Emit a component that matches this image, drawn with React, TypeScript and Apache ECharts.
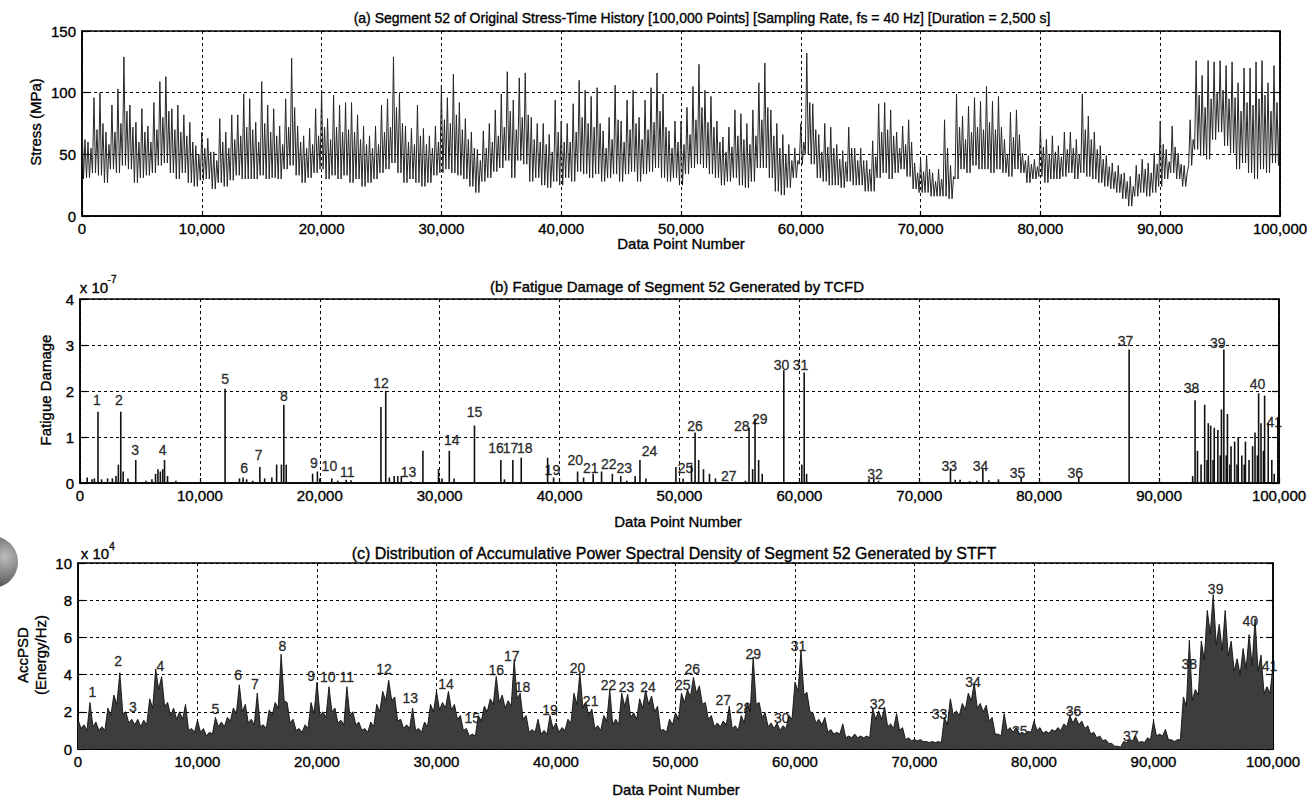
import React, { useEffect, useRef } from "react";
import * as echarts from "echarts";

// ---------- data ----------
const SAMPLE_STEP = 500; // data points between samples

// (a) stress, every 500 points (0 .. 100,000), MPa: spike tops, core-band tops and troughs
const STRESS_HIGH = [
  77, 60, 96, 100, 68, 90, 103, 129, 90, 76,
  87, 73, 92, 109, 113, 87, 90, 82, 76, 57,
  68, 63, 52, 79, 68, 82, 82, 99, 95, 76,
  109, 90, 87, 73, 95, 128, 73, 65, 71, 87,
  102, 79, 98, 90, 92, 92, 82, 73, 65, 73,
  90, 95, 129, 100, 73, 71, 90, 71, 65, 73,
  106, 96, 115, 92, 79, 68, 54, 69, 75, 86,
  99, 117, 94, 112, 116, 80, 75, 75, 66, 94,
  77, 75, 91, 110, 102, 97, 104, 69, 80, 106,
  77, 94, 102, 80, 94, 104, 116, 99, 69, 77,
  77, 88, 105, 123, 102, 97, 77, 64, 72, 86,
  83, 75, 86, 108, 124, 86, 75, 66, 58, 55,
  75, 132, 91, 66, 75, 72, 58, 53, 72, 55,
  55, 45, 61, 91, 92, 86, 68, 73, 78, 43,
  46, 49, 35, 38, 78, 41, 99, 81, 89, 96,
  93, 105, 93, 97, 62, 84, 86, 51, 49, 46,
  73, 62, 65, 57, 68, 68, 62, 99, 81, 68,
  57, 49, 43, 41, 35, 32, 41, 46, 43, 51,
  77, 54, 73, 51, 41, 78, 126, 114, 126, 125,
  126, 122, 125, 108, 120, 120, 125, 126, 108, 122,
  95,
];
const STRESS_MID = [
  62, 55, 70, 75, 58, 68, 75, 85, 72, 60,
  68, 60, 70, 80, 85, 70, 68, 65, 60, 50,
  55, 52, 45, 60, 55, 62, 65, 72, 70, 60,
  75, 68, 65, 58, 72, 88, 60, 55, 58, 65,
  72, 62, 72, 68, 70, 68, 62, 58, 55, 58,
  68, 72, 88, 75, 60, 58, 65, 58, 55, 60,
  78, 75, 82, 70, 62, 55, 45, 55, 60, 65,
  72, 85, 70, 80, 82, 62, 60, 58, 52, 68,
  60, 60, 68, 80, 75, 72, 75, 55, 62, 78,
  60, 70, 75, 62, 70, 76, 85, 72, 55, 60,
  58, 66, 78, 88, 76, 72, 60, 52, 56, 65,
  62, 58, 65, 78, 88, 65, 55, 50, 45, 45,
  60, 92, 70, 52, 56, 55, 46, 44, 55, 45,
  45, 38, 48, 68, 70, 65, 55, 58, 60, 35,
  36, 38, 28, 30, 55, 32, 72, 62, 68, 72,
  70, 76, 70, 72, 50, 64, 66, 45, 42, 40,
  56, 50, 52, 48, 54, 55, 50, 70, 62, 54,
  46, 40, 36, 34, 28, 24, 34, 38, 35, 42,
  58, 44, 56, 42, 35, 62, 98, 88, 95, 100,
  102, 95, 96, 85, 92, 90, 95, 98, 85, 92,
];
const STRESS_LOW = [
  30, 31, 35, 33, 27, 38, 35, 41, 38, 27,
  31, 33, 35, 41, 43, 35, 30, 35, 27, 24,
  29, 30, 22, 27, 24, 29, 33, 30, 30, 30,
  33, 30, 31, 30, 38, 41, 33, 27, 31, 35,
  38, 30, 33, 30, 33, 27, 30, 24, 27, 30,
  35, 38, 43, 35, 27, 30, 27, 24, 27, 33,
  35, 38, 35, 33, 30, 24, 19, 28, 31, 36,
  39, 45, 31, 45, 42, 28, 31, 25, 23, 28,
  25, 31, 28, 36, 34, 31, 34, 28, 31, 34,
  28, 34, 36, 28, 34, 36, 39, 31, 28, 31,
  25, 34, 39, 42, 39, 34, 31, 25, 28, 31,
  25, 23, 28, 39, 39, 31, 20, 17, 23, 31,
  42, 50, 42, 31, 28, 25, 25, 23, 28, 25,
  25, 20, 20, 31, 35, 30, 35, 38, 32, 22,
  19, 19, 16, 16, 16, 14, 30, 38, 35, 41,
  38, 38, 35, 38, 35, 32, 38, 35, 27, 30,
  32, 27, 30, 30, 32, 35, 30, 35, 32, 30,
  27, 24, 22, 19, 14, 8, 16, 19, 16, 19,
  24, 30, 35, 30, 24, 41, 54, 49, 46, 62,
  68, 57, 51, 38, 43, 35, 30, 38, 35, 43,
  41,
];

// (b) fatigue damage spikes: position (data point) and value (x 1e-7)
const DAMAGE_POS = [
  600, 1000, 1200, 1500, 1800, 2300, 2700, 3000, 3200, 3400, 3600, 4000, 4650, 5500, 6000, 6300, 6500, 6700, 6900, 7050, 7300, 8000,
  12100, 13300, 13600, 13900, 14400, 15000, 15400, 16000, 16400, 16800, 17000, 17200, 19400, 19800, 20000, 21000, 21500, 22200, 22600,
  25100, 25500, 25800, 26200, 26500, 26800, 27600, 28600, 29900, 30200, 30800, 31200, 32900, 35100, 35400, 36100, 36800, 39000, 39500,
  41500, 42000, 42800, 43500, 44400, 45100, 45600, 46300, 46700, 47200, 49700, 50300, 51000, 51300, 51600, 52000, 52500, 53000, 54100,
  55500, 55800, 56100, 56300, 56600, 56900, 58700, 60200, 60400, 60600, 65800, 66200, 66600, 72600, 73000, 73400, 74200, 74800, 75300,
  75800, 76600, 78500, 83300, 87500, 92800, 93000, 93200, 93500, 93800, 94000, 94100, 94300, 94500, 94600, 94900, 95100, 95200, 95400,
  95600, 95700, 95900, 96000, 96300, 96500, 96600, 96900, 97100, 97200, 97500, 97800, 98000, 98200, 98300, 98500, 98700, 98800, 99100,
  99400, 99600, 99900,
];
const DAMAGE_VAL = [
  0.12, 0.08, 0.1, 1.55, 0.08, 0.1, 0.1, 0.15, 0.4, 1.55, 0.25, 0.1, 0.5, 0.05, 0.08, 0.2, 0.3, 0.25, 0.3, 0.5, 0.15, 0.05,
  2.05, 0.1, 0.12, 0.08, 0.05, 0.35, 0.1, 0.12, 0.4, 0.4, 1.7, 0.4, 0.2, 0.25, 0.1, 0.1, 0.05, 0.07, 0.06,
  1.65, 2.0, 0.12, 0.15, 0.15, 0.15, 0.04, 0.7, 0.3, 0.1, 0.7, 0.1, 1.25, 0.5, 0.08, 0.5, 0.55, 0.55, 0.12,
  0.25, 0.12, 0.2, 0.25, 0.2, 0.15, 0.05, 0.15, 0.5, 0.1, 0.35, 0.1, 0.4, 1.1, 0.5, 0.3, 0.2, 0.1, 0.03,
  0.05, 1.2, 0.3, 1.4, 0.5, 0.2, 2.45, 0.4, 2.4, 0.2, 0.08, 0.1, 0.05, 0.3, 0.07, 0.07, 0.04, 0.05, 0.3,
  0.06, 0.08, 0.12, 0.12, 2.9, 0.15, 1.8, 0.7, 0.4, 1.7, 0.5, 1.3, 1.25, 0.5, 1.2, 1.15, 0.6, 1.6, 2.9,
  0.6, 1.5, 0.4, 0.8, 0.9, 0.4, 1.0, 0.6, 0.4, 0.9, 0.5, 0.8, 1.1, 0.6, 1.95, 1.3, 0.7, 1.9, 1.3,
  0.5, 0.2, 1.4,
];
const DAMAGE_LABEL_POS = [
  1400, 3250, 4600, 6900, 12100, 13700, 14900, 17000, 19500, 20800, 22300, 25100, 27400, 31000, 32900, 34700, 35900, 37100, 39400, 41300, 42600,
  44100, 45400, 47500, 50500, 51300, 54100, 55200, 56700, 58500, 60100, 66300, 72500, 75100, 78200, 83000, 87200, 92700, 94900, 98200, 99600,
];
const DAMAGE_LABEL_VAL = [
  1.8, 1.8, 0.71, 0.71, 2.27, 0.32, 0.6, 1.9, 0.43, 0.37, 0.24, 2.18, 0.24, 0.93, 1.54, 0.76, 0.76, 0.76, 0.28, 0.5, 0.32,
  0.41, 0.32, 0.69, 0.32, 1.25, 0.15, 1.25, 1.4, 2.57, 2.57, 0.19, 0.37, 0.37, 0.22, 0.22, 3.09, 2.07, 3.05, 2.16, 1.32,
];

// (c) accumulative PSD (x 1e4 Energy/Hz): peaks every 500 points, valleys between them
const PSD = [
  1.6, 1.3, 2.5, 1.45, 1.2, 2.2, 2.9, 4.1, 2.0, 1.6,
  1.6, 1.55, 2.7, 4.3, 3.9, 2.5, 2.2, 2.0, 2.4, 1.1,
  1.55, 1.1, 0.9, 1.7, 1.45, 1.7, 2.2, 3.45, 2.4, 1.6,
  3.0, 1.3, 2.1, 2.5, 5.1, 2.5, 1.6, 1.1, 1.3, 2.5,
  3.6, 2.0, 3.35, 2.2, 1.55, 3.35, 2.0, 1.45, 1.1, 1.45,
  2.4, 3.1, 3.7, 2.8, 1.6, 1.3, 2.2, 1.1, 1.45, 2.4,
  3.1, 2.5, 3.1, 2.4, 1.8, 1.1, 0.8, 1.8, 2.3, 2.7,
  3.9, 2.9, 2.6, 4.8, 3.0, 1.8, 1.05, 1.6, 1.0, 1.8,
  1.4, 1.15, 1.6, 3.0, 4.1, 2.5, 2.15, 1.25, 1.8, 3.2,
  1.6, 3.0, 2.95, 1.95, 2.7, 3.15, 2.85, 2.3, 1.05, 1.6,
  1.95, 3.0, 3.2, 3.85, 3.4, 2.5, 1.8, 1.4, 1.5, 2.3,
  1.25, 1.8, 2.5, 4.95, 2.5, 1.95, 1.4, 1.4, 1.25, 1.8,
  3.6, 5.3, 3.05, 1.95, 1.6, 1.7, 1.05, 0.9, 1.35, 0.7,
  0.8, 0.7, 0.7, 2.2, 2.05, 2.25, 1.35, 1.9, 1.15, 0.6,
  0.5, 0.5, 0.4, 0.4, 0.4, 1.7, 2.7, 2.05, 2.45, 3.0,
  3.55, 2.45, 2.35, 1.7, 0.8, 1.9, 1.15, 1.15, 0.9, 0.95,
  1.5, 1.15, 0.95, 1.05, 1.15, 1.35, 1.8, 1.7, 1.5, 1.25,
  0.9, 0.7, 0.5, 0.3, 0.15, 0.4, 0.5, 0.7, 0.4, 0.6,
  1.5, 0.8, 1.05, 0.5, 0.5, 2.8, 5.85, 3.2, 5.8, 7.45,
  8.3, 6.7, 7.45, 5.8, 4.85, 5.4, 6.15, 7.0, 5.05, 3.35,
  4.5,
];
const PSD_VALLEY = [
  1.1, 1.0, 1.2, 1.0, 1.0, 1.8, 2.4, 1.9, 1.4, 1.3,
  1.2, 1.3, 2.2, 3.2, 2.3, 1.8, 1.6, 1.6, 1.0, 0.9,
  0.9, 0.7, 0.8, 1.2, 1.2, 1.5, 1.9, 2.0, 1.4, 1.3,
  1.2, 1.1, 1.8, 2.2, 2.6, 1.4, 1.0, 0.9, 1.1, 1.9,
  1.8, 1.7, 2.0, 1.4, 1.3, 1.8, 1.3, 1.0, 0.9, 1.2,
  2.0, 2.6, 2.6, 1.5, 1.1, 1.1, 1.0, 0.9, 1.2, 2.0,
  2.1, 2.2, 2.1, 1.6, 1.0, 0.7, 0.7, 1.5, 2.0, 2.4,
  2.5, 2.2, 2.3, 2.7, 1.6, 0.9, 0.9, 0.8, 0.8, 1.1,
  0.9, 1.0, 1.4, 2.4, 2.2, 1.8, 1.1, 1.0, 1.5, 1.3,
  1.3, 2.3, 1.7, 1.6, 2.2, 2.4, 2.0, 1.0, 0.9, 1.3,
  1.6, 2.5, 2.8, 3.0, 2.4, 1.6, 1.2, 1.2, 1.3, 1.1,
  1.0, 1.4, 2.0, 2.4, 1.7, 1.2, 1.1, 1.0, 1.1, 1.6,
  3.1, 2.9, 2.0, 1.4, 1.3, 0.9, 0.8, 0.8, 0.6, 0.6,
  0.6, 0.6, 0.6, 1.6, 1.6, 1.2, 1.1, 1.0, 0.5, 0.45,
  0.45, 0.4, 0.35, 0.35, 0.35, 1.3, 1.8, 1.8, 2.1, 2.6,
  2.2, 2.0, 1.5, 0.8, 0.7, 1.0, 0.9, 0.8, 0.8, 0.9,
  1.0, 0.85, 0.85, 0.95, 1.0, 1.2, 1.4, 1.3, 1.1, 0.8,
  0.6, 0.45, 0.3, 0.15, 0.1, 0.35, 0.45, 0.35, 0.35, 0.5,
  0.7, 0.7, 0.5, 0.4, 0.5, 2.3, 2.6, 2.9, 4.8, 6.2,
  5.6, 5.3, 5.0, 4.2, 4.0, 4.3, 4.5, 4.2, 3.0, 3.0,
];
const PSD_LABEL_POS = [
  1200, 3350, 4600, 6900, 11500, 13400, 14800, 17100, 19500, 20900, 22500, 25600, 27800, 30800, 33000, 35000, 36300, 37200, 39500, 41800, 42900,
  44400, 45900, 47700, 50600, 51400, 54000, 55700, 56500, 58900, 60300, 66900, 72100, 74900, 78800, 83300, 88100, 93000, 95200, 98100, 99700,
];
const PSD_LABEL_VAL = [
  3.06, 4.73, 2.26, 4.46, 2.15, 3.98, 3.49, 5.54, 3.92, 3.87, 3.87, 4.3, 2.74, 3.49, 1.67, 4.25, 5.0, 3.33, 2.1, 4.35, 2.58,
  3.44, 3.33, 3.33, 3.44, 4.3, 2.62, 2.2, 5.1, 1.67, 5.54, 2.42, 1.88, 3.6, 0.97, 2.04, 0.7, 4.57, 8.6, 6.88, 4.46,
];

// ---------- styling ----------
const FONT = "'Liberation Sans', Arial, sans-serif";
const INK = "#000000";
const THICK = { textBorderColor: "#000000", textBorderWidth: 0.35 };

const GRIDS = [
  { left: 82, top: 31, width: 1198, height: 185 },
  { left: 80, top: 299, width: 1199, height: 184 },
  { left: 78, top: 563, width: 1195, height: 186 },
];
const Y_RANGES = [
  { min: 0, max: 150, interval: 50 },
  { min: 0, max: 4, interval: 1 },
  { min: 0, max: 10, interval: 2 },
];

export default function App() {
  const ref = useRef<HTMLDivElement>(null);

  useEffect(() => {
    if (!ref.current) return;
    const chart = echarts.init(ref.current, null, { renderer: "svg" });

    const q = SAMPLE_STEP / 4;
    const stressData: number[][] = [];
    STRESS_HIGH.forEach((h, i) => {
      const x0 = i * SAMPLE_STEP;
      stressData.push([x0, h]);
      if (i < STRESS_MID.length) {
        stressData.push([x0 + q, STRESS_LOW[i]]);
        stressData.push([x0 + 2 * q, STRESS_MID[i]]);
        stressData.push([x0 + 3 * q, STRESS_LOW[i + 1]]);
      }
    });
    const psdData: number[][] = [];
    PSD.forEach((v, i) => {
      psdData.push([i * SAMPLE_STEP, v]);
      if (i < PSD_VALLEY.length) psdData.push([i * SAMPLE_STEP + SAMPLE_STEP / 2, PSD_VALLEY[i]]);
    });
    const damageData = DAMAGE_POS.map((p, i) => [p, DAMAGE_VAL[i]]);
    const damageLabels = DAMAGE_LABEL_POS.map((p, i) => ({ name: String(i + 1), value: [p, DAMAGE_LABEL_VAL[i]] }));
    const psdLabels = PSD_LABEL_POS.map((p, i) => ({ name: String(i + 1), value: [p, PSD_LABEL_VAL[i]] }));

    const splitStyle = { show: true, lineStyle: { color: INK, type: [3, 3] as any, width: 1 } };

    const xAxes = GRIDS.map((_, g) => ({
      gridIndex: g,
      type: "value",
      min: 0,
      max: 100000,
      interval: 10000,
      axisLine: { show: true, lineStyle: { color: INK, width: 1.5 } },
      axisTick: { show: true, inside: true, length: 5, lineStyle: { color: INK, width: 1.2 } },
      axisLabel: {
        color: INK,
        fontFamily: FONT,
        fontSize: 15,
        margin: 5,
        ...THICK,
        formatter: (v: number) => v.toLocaleString("en-US"),
      },
      splitLine: splitStyle,
    }));

    const yAxes: any[] = [];
    GRIDS.forEach((_, g) => {
      yAxes.push({
        gridIndex: g,
        type: "value",
        ...Y_RANGES[g],
        axisLine: { show: true, lineStyle: { color: INK, width: 1.5 } },
        axisTick: { show: true, inside: true, length: 7, lineStyle: { color: INK, width: 1.2 } },
        axisLabel: { color: INK, fontFamily: FONT, fontSize: 15, margin: 6, ...THICK },
        splitLine: splitStyle,
      });
      yAxes.push({
        gridIndex: g,
        type: "value",
        position: "right",
        ...Y_RANGES[g],
        axisLine: { show: true, lineStyle: { color: INK, width: 1.5 } },
        axisTick: { show: true, inside: true, length: 7, lineStyle: { color: INK, width: 1.2 } },
        axisLabel: { show: false },
        splitLine: { show: false },
      });
    });

    const text = (t: string, x: number, y: number, size: number, extra: any = {}) => ({
      type: "text",
      x,
      y,
      silent: true,
      style: {
        text: t,
        fill: INK,
        stroke: INK,
        lineWidth: 0.35,
        fontFamily: FONT,
        fontSize: size,
        textAlign: "center",
        textVerticalAlign: "middle",
        align: "center",
        verticalAlign: "middle",
        ...extra,
      },
    });

    const labelStyle = {
      show: true,
      position: [0, 0],
      align: "center",
      verticalAlign: "middle",
      formatter: "{b}",
      color: INK,
      fontFamily: FONT,
      fontSize: 14,
      ...THICK,
    };

    const option: any = {
      animation: false,
      backgroundColor: "#ffffff",
      grid: GRIDS.map((g) => ({ ...g, show: true, borderColor: INK, borderWidth: 1.5, backgroundColor: "transparent" })),
      xAxis: xAxes,
      yAxis: yAxes,
      series: [
        {
          type: "line",
          xAxisIndex: 0,
          yAxisIndex: 0,
          data: stressData,
          showSymbol: false,
          silent: true,
          lineStyle: { color: "#262626", width: 1 },
        },
        {
          type: "bar",
          xAxisIndex: 1,
          yAxisIndex: 2,
          data: damageData,
          barWidth: 1.6,
          silent: true,
          itemStyle: { color: "#111" },
        },
        {
          type: "scatter",
          xAxisIndex: 1,
          yAxisIndex: 2,
          data: damageLabels,
          symbolSize: 0,
          silent: true,
          itemStyle: { color: INK },
          label: labelStyle,
        },
        {
          type: "line",
          xAxisIndex: 2,
          yAxisIndex: 4,
          data: psdData,
          showSymbol: false,
          silent: true,
          lineStyle: { color: "#111", width: 0.9 },
          areaStyle: { color: "#3d3d3d", opacity: 1 },
        },
        {
          type: "scatter",
          xAxisIndex: 2,
          yAxisIndex: 4,
          data: psdLabels,
          symbolSize: 0,
          silent: true,
          itemStyle: { color: INK },
          label: labelStyle,
        },
      ],
      graphic: [
        text("(a) Segment 52 of Original Stress-Time History [100,000 Points] [Sampling Rate, fs = 40 Hz] [Duration = 2,500 s]", 702, 18, 14),
        text("(b) Fatigue Damage of Segment 52 Generated by TCFD", 677, 286, 15),
        text("(c) Distribution of Accumulative Power Spectral Density of Segment 52 Generated by STFT", 674, 553, 16),
        text("Data Point Number", 681, 243, 15),
        text("Data Point Number", 678, 521, 15),
        text("Data Point Number", 676, 789, 15),
        { ...text("Stress (MPa)", 35, 122, 15), rotation: Math.PI / 2 },
        { ...text("Fatigue Damage", 45, 390, 15), rotation: Math.PI / 2 },
        { ...text("AccPSD\n(Energy/Hz)", 31, 655, 15, { lineHeight: 18 }), rotation: Math.PI / 2 },
        text("x 10", 94, 287, 15),
        text("-7", 112, 279, 10),
        text("x 10", 95, 553, 15),
        text("4", 112, 546, 10),
        {
          type: "circle",
          silent: true,
          shape: { cx: -8, cy: 562, r: 26 },
          style: {
            fill: new echarts.graphic.RadialGradient(0.75, 0.4, 0.75, [
              { offset: 0, color: "#bdbdbd" },
              { offset: 1, color: "#3a3a3a" },
            ]),
          },
        },
      ],
    };

    chart.setOption(option);
    return () => chart.dispose();
  }, []);

  return <div ref={ref} style={{ position: "absolute", left: 0, top: 0, width: 1314, height: 797 }} />;
}
